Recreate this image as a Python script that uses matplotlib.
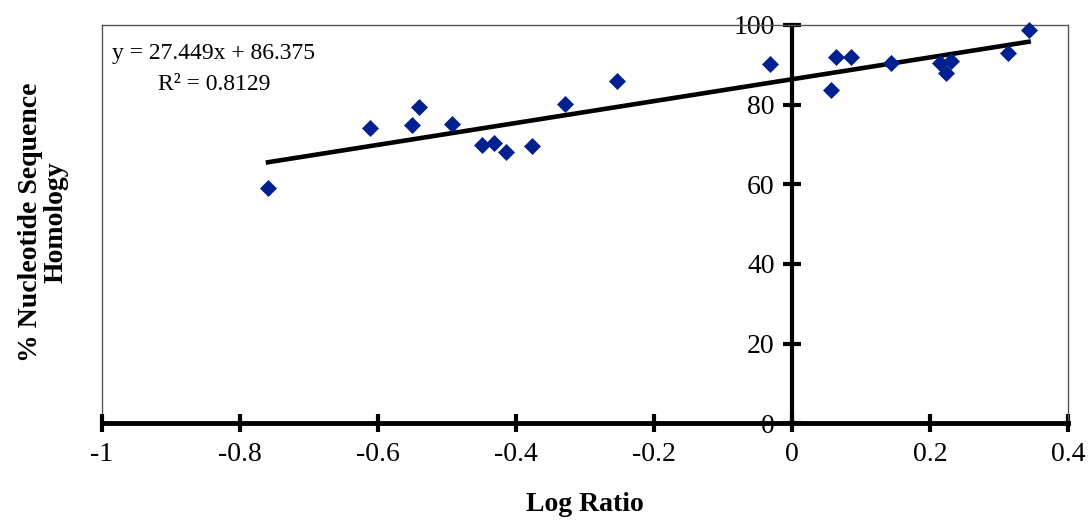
import numpy as np
import matplotlib
matplotlib.use("Agg")
import matplotlib.pyplot as plt

# values
log_ratio = [-0.759, -0.612, -0.550, -0.540, -0.493, -0.449, -0.432, -0.414,
             -0.376, -0.329, -0.254, -0.032, 0.056, 0.064, 0.086, 0.144,
             0.215, 0.223, 0.230, 0.313, 0.343]
homology = [59.0, 74.1, 74.9, 79.5, 75.1, 69.9, 70.3, 68.0,
            69.7, 80.1, 86.0, 90.1, 83.6, 91.9, 91.9, 90.5,
            90.4, 87.9, 90.9, 92.9, 98.7]

# trendline as printed on the chart
slope = 27.449
intercept = 86.375
r_squared = 0.8129

x_ticks = [-1, -0.8, -0.6, -0.4, -0.2, 0, 0.2, 0.4]
x_tick_labels = ["-1", "-0.8", "-0.6", "-0.4", "-0.2", "0", "0.2", "0.4"]
y_ticks = [0, 20, 40, 60, 80, 100]

plt.rcParams["font.family"] = ["Liberation Serif", "DejaVu Serif"]

W, H = 1090, 523
fig = plt.figure(figsize=(W / 100, H / 100), dpi=100)
left, right, top, bottom = 101.7, 1068.0, 25.0, 423.3
ax = fig.add_axes([left / W, 1 - bottom / H, (right - left) / W, (bottom - top) / H])

ax.set_xlim(-1, 0.4)
ax.set_ylim(0, 100)

# thin frame around the plot area
for s in ["top", "right"]:
    ax.spines[s].set_linewidth(1.0)
    ax.spines[s].set_color("#555555")
ax.axvline(-1, color="#555555", lw=1.0, clip_on=False, zorder=1)

# thick axes crossing at x = 0
ax.spines["left"].set_position(("data", 0))
ax.spines["left"].set_linewidth(3)
ax.spines["left"].set_color("black")
ax.spines["bottom"].set_linewidth(3.5)
ax.spines["bottom"].set_color("black")

ax.set_xticks(x_ticks)
ax.set_xticklabels(x_tick_labels)
ax.set_yticks(y_ticks)
ax.tick_params(axis="both", direction="inout", length=13, width=3, labelsize=20, color="black")
ax.tick_params(axis="x", pad=7)
ax.tick_params(axis="y", pad=6)

# data points
ax.plot(log_ratio, homology, linestyle="none", marker="D", markersize=8,
        color="#00208F", markeredgecolor="#00208F", markeredgewidth=0.5, zorder=4, clip_on=False)

# linear trendline over the data range
xs = np.array([min(log_ratio), max(log_ratio)])
ax.plot(xs, slope * xs + intercept, color="black", lw=3.3, zorder=3)

fig.text(214 / W, 1 - 69 / H, "y = %.3fx + %.3f\nR\u00b2 = %.4f" % (slope, intercept, r_squared),
         fontsize=17, ha="center", va="center", multialignment="center", linespacing=1.65)

ax.set_xlabel("Log Ratio", fontsize=20, fontweight="bold", labelpad=18)
fig.text(43 / W, 1 - 222 / H, "% Nucleotide Sequence\nHomology", rotation=90,
         fontsize=20, fontweight="bold", ha="center", va="center", linespacing=1.05)

fig.savefig("out.png", dpi=100)
